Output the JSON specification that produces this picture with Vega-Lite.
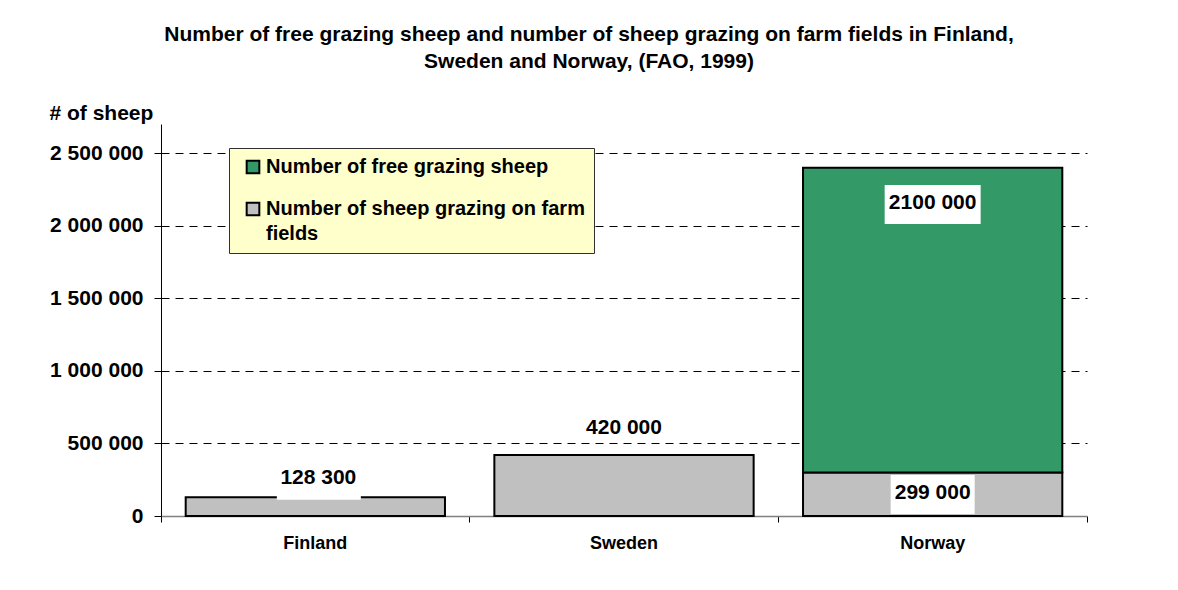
{
  "$schema": "https://vega.github.io/schema/vega-lite/v6.json",
  "width": 926,
  "height": 392,
  "autosize": {"type": "none"},
  "padding": {"left": 161, "top": 124, "right": 91, "bottom": 74},
  "background": "white",
  "title": {
    "text": ["Number of free grazing sheep and number of sheep grazing on farm fields in Finland,", "Sweden and Norway, (FAO, 1999)"],
    "fontSize": 21,
    "fontWeight": "bold",
    "font": "Liberation Sans",
    "color": "black",
    "anchor": "middle",
    "frame": "group",
    "dx": -35,
    "lineHeight": 27,
    "offset": 30
  },
  "data": {
    "values": [
      {"country": "Finland", "series": "Number of sheep grazing on farm fields", "value": 128300, "label": "128 300"},
      {"country": "Sweden", "series": "Number of sheep grazing on farm fields", "value": 420000, "label": "420 000"},
      {"country": "Norway", "series": "Number of sheep grazing on farm fields", "value": 299000, "label": "299 000"},
      {"country": "Norway", "series": "Number of free grazing sheep", "value": 2100000, "label": "2100 000"}
    ]
  },
  "transform": [
    {"stack": "value", "groupby": ["country"], "sort": [{"field": "series", "order": "descending"}], "as": ["v0", "v1"]}
  ],
  "encoding": {
    "x": {
      "field": "country",
      "type": "nominal",
      "sort": ["Finland", "Sweden", "Norway"],
      "scale": {"paddingInner": 0, "paddingOuter": 0},
      "axis": {
        "title": null,
        "labelAngle": 0,
        "labelFontSize": 18,
        "labelFontWeight": "bold",
        "labelColor": "black",
        "labelPadding": 12,
        "bandPosition": 1,
        "tickExtra": true,
        "tickSize": 6,
        "tickColor": "black",
        "domainColor": "#808080",
        "domainWidth": 1.5
      }
    },
    "y": {
      "field": "v1",
      "type": "quantitative",
      "scale": {"domain": [0, 2700000], "nice": false, "zero": true},
      "axis": {
        "title": "# of sheep",
        "titleAngle": 0,
        "titleAlign": "left",
        "titleBaseline": "alphabetic",
        "titleX": -112,
        "titleY": -5,
        "titleFontSize": 21,
        "titleFontWeight": "bold",
        "titleColor": "black",
        "values": [0, 500000, 1000000, 1500000, 2000000, 2500000],
        "labelExpr": "replace(datum.label, regexp(',', 'g'), ' ')",
        "labelFontSize": 21,
        "labelFontWeight": "bold",
        "labelColor": "black",
        "labelPadding": 11,
        "tickSize": 7,
        "tickColor": "black",
        "domainColor": "black",
        "grid": true,
        "gridColor": "black",
        "gridDash": [8, 6],
        "gridOpacity": {"condition": {"test": "datum.value === 0", "value": 0}, "value": 1}
      }
    }
  },
  "layer": [
    {
      "mark": {"type": "bar", "stroke": "black", "strokeWidth": 2, "width": {"band": 0.84}},
      "encoding": {
        "y2": {"field": "v0"},
        "color": {
          "field": "series",
          "type": "nominal",
          "scale": {"domain": ["Number of free grazing sheep", "Number of sheep grazing on farm fields"], "range": ["#339966", "#C0C0C0"]},
          "legend": {
            "orient": "none",
            "legendX": 68,
            "legendY": 24,
            "title": null,
            "fillColor": "#FFFFCC",
            "strokeColor": "#303030",
            "padding": 9,
            "symbolType": "square",
            "symbolSize": 160,
            "symbolStrokeColor": "black",
            "symbolStrokeWidth": 2,
            "symbolOffset": 5,
            "labelOffset": 3,
            "labelFontSize": 20,
            "labelFontWeight": "bold",
            "labelColor": "black",
            "labelLimit": 500,
            "rowPadding": 20,
            "labelExpr": "datum.label == 'Number of sheep grazing on farm fields' ? ['Number of sheep grazing on farm', 'fields'] : datum.label"
          }
        }
      }
    },
    {
      "transform": [{"filter": "datum.country == 'Finland'"}],
      "mark": {"type": "point", "shape": "M-0.77,-0.73H0.91V0.05H-0.77Z", "size": 10000, "filled": true, "fill": "white", "opacity": 1, "strokeWidth": 0}
    },
    {
      "transform": [{"filter": "datum.country == 'Norway' && datum.value == 299000"}],
      "mark": {"type": "point", "shape": "M-0.84,0.05H0.84V0.83H-0.84Z", "size": 10000, "filled": true, "fill": "white", "opacity": 1, "strokeWidth": 0}
    },
    {
      "transform": [{"filter": "datum.country == 'Norway' && datum.value == 2100000"}],
      "mark": {"type": "point", "shape": "M-0.96,0.345H0.96V1.125H-0.96Z", "size": 10000, "filled": true, "fill": "white", "opacity": 1, "strokeWidth": 0}
    },
    {
      "transform": [{"filter": "datum.country == 'Finland'"}],
      "mark": {"type": "text", "fontSize": 21, "fontWeight": "bold", "color": "black", "baseline": "middle", "align": "center", "dy": -19, "dx": 3},
      "encoding": {"text": {"field": "label"}}
    },
    {
      "transform": [{"filter": "datum.country == 'Sweden'"}],
      "mark": {"type": "text", "fontSize": 21, "fontWeight": "bold", "color": "black", "baseline": "middle", "align": "center", "dy": -27},
      "encoding": {"text": {"field": "label"}}
    },
    {
      "transform": [{"filter": "datum.country == 'Norway' && datum.value == 299000"}],
      "mark": {"type": "text", "fontSize": 21, "fontWeight": "bold", "color": "black", "baseline": "middle", "align": "center", "dy": 20},
      "encoding": {"text": {"field": "label"}}
    },
    {
      "transform": [{"filter": "datum.country == 'Norway' && datum.value == 2100000"}],
      "mark": {"type": "text", "fontSize": 21, "fontWeight": "bold", "color": "black", "baseline": "middle", "align": "center", "dy": 35},
      "encoding": {"text": {"field": "label"}}
    }
  ],
  "config": {
    "font": "Liberation Sans",
    "view": {"stroke": null},
    "style": {"guide-label": {"lineHeight": 25}}
  }
}
